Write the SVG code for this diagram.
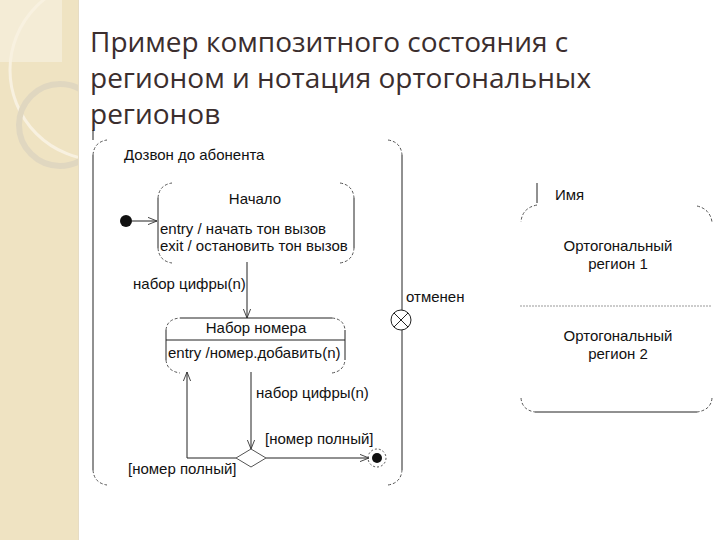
<svg xmlns="http://www.w3.org/2000/svg" width="720" height="540" viewBox="0 0 720 540">
<style>
.t{font-family:"Liberation Sans",Arial,sans-serif;font-size:15px;fill:#111}
.title{font-family:"Open Sans","Noto Sans",sans-serif;font-size:28px;fill:#3b2e2e}
.ln{stroke:#222;stroke-width:1;fill:none}
.cr{stroke:#555;stroke-width:1;fill:none;stroke-dasharray:3 2}
.c{text-anchor:middle}
</style>
<defs>
<marker id="open" viewBox="0 0 10 10" refX="10" refY="5" markerWidth="9" markerHeight="9" orient="auto" markerUnits="userSpaceOnUse">
<path d="M0,1 L10,5 L0,9" fill="none" stroke="#333" stroke-width="1"/>
</marker>
<clipPath id="strip"><rect x="0" y="0" width="78" height="540"/></clipPath>
</defs>
<rect width="720" height="540" fill="#fff"/>
<g id="background" clip-path="url(#strip)">
<rect x="0" y="0" width="78" height="540" fill="#efe3c2"/>
<rect x="0" y="0" width="62" height="62" fill="#f4ecd6"/>
<circle cx="100" cy="70" r="90" fill="none" stroke="#f8f1e0" stroke-width="3"/>
<circle cx="60" cy="125" r="41" fill="none" stroke="#e0d7c0" stroke-width="6"/>
</g>
<line x1="78.5" y1="0" x2="78.5" y2="540" stroke="#e6dcc4" stroke-width="1"/>
<g id="title">
<text class="title" x="90" y="52">Пример композитного состояния с</text>
<text class="title" x="90" y="88">регионом и нотация ортогональных</text>
<text class="title" x="90" y="124">регионов</text>
</g>
<g id="connectors">
<line class="ln" x1="132" y1="221" x2="157" y2="221" marker-end="url(#open)"/>
<line class="ln" x1="247" y1="262" x2="247" y2="318" marker-end="url(#open)"/>
<line class="ln" x1="251" y1="372" x2="251" y2="449" marker-end="url(#open)"/>
<polyline class="ln" points="236,458 187,458 187,372" marker-end="url(#open)"/>
<line class="ln" x1="266" y1="458" x2="369" y2="458" marker-end="url(#open)"/>
<text class="t" x="133" y="289">набор цифры(n)</text>
<text class="t" x="256" y="398">набор цифры(n)</text>
<text class="t" x="128" y="474">[номер полный]</text>
<text class="t" x="265" y="444">[номер полный]</text>
<text class="t" x="406" y="302">отменен</text>
</g>
<g id="dozvon">
<line class="ln" x1="93" y1="130" x2="93" y2="140"/>
<line class="ln" x1="93" y1="155" x2="93" y2="470"/>
<line class="ln" x1="402" y1="155" x2="402" y2="310"/>
<line class="ln" x1="402" y1="330" x2="402" y2="470"/>
<path class="cr" d="M93,155 Q94,142 107,140"/>
<path class="cr" d="M388,140 Q401,142 402,155"/>
<path class="cr" d="M93,470 Q94,483 107,485"/>
<path class="cr" d="M388,485 Q401,483 402,470"/>
<text class="t" x="124" y="160">Дозвон до абонента</text>
</g>
<g id="initial">
<circle cx="126" cy="221" r="6" fill="#111"/>
</g>
<g id="nachalo">
<line class="ln" x1="158" y1="198" x2="158" y2="248"/>
<line class="ln" x1="354" y1="198" x2="354" y2="248"/>
<path class="cr" d="M158,198 Q159,185 172,183"/>
<path class="cr" d="M340,183 Q353,185 354,198"/>
<path class="cr" d="M158,248 Q159,261 172,263"/>
<path class="cr" d="M340,263 Q353,261 354,248"/>
<text class="t c" x="255" y="204">Начало</text>
<text class="t" x="160" y="234">entry / начать тон вызов</text>
<text class="t" x="160" y="251">exit / остановить тон вызов</text>
</g>
<g id="nabor">
<line class="ln" x1="180" y1="318" x2="332" y2="318"/>
<line class="ln" x1="166" y1="340" x2="345" y2="340"/>
<line class="ln" x1="166" y1="330" x2="166" y2="360"/>
<line class="ln" x1="345" y1="330" x2="345" y2="360"/>
<path class="cr" d="M166,330 Q167,319 180,318"/>
<path class="cr" d="M332,318 Q344,319 345,330"/>
<path class="cr" d="M166,360 Q167,371 180,373"/>
<path class="cr" d="M332,373 Q344,371 345,360"/>
<text class="t c" x="256" y="333">Набор номера</text>
<text class="t" x="168" y="358">entry /номер.добавить(n)</text>
</g>
<g id="choice">
<polygon points="236,458 251,449 266,458 251,467" fill="#fff" stroke="#555" stroke-width="1"/>
</g>
<g id="final">
<circle cx="377" cy="458" r="9" fill="none" stroke="#555" stroke-dasharray="2 2"/>
<circle cx="377" cy="458" r="5" fill="#111"/>
</g>
<g id="terminate">
<circle cx="401" cy="320" r="10" fill="#fff" stroke="#222"/>
<line class="ln" x1="394" y1="313" x2="408" y2="327"/>
<line class="ln" x1="408" y1="313" x2="394" y2="327"/>
</g>
<g id="orthogonal">
<line class="ln" x1="537" y1="183" x2="537" y2="203"/>
<text class="t" x="555" y="200">Имя</text>
<path class="cr" d="M537,205 Q522,208 521,222"/>
<path class="cr" d="M697,206 Q710,209 712,222"/>
<path class="cr" d="M521,398 Q522,410 535,412"/>
<path class="cr" d="M712,398 Q711,410 697,412"/>
<line class="ln" x1="535" y1="412" x2="697" y2="412"/>
<line x1="520" y1="306" x2="712" y2="306" stroke="#999" stroke-width="1" stroke-dasharray="2 1"/>
<text class="t c" x="618" y="251">Ортогональный</text>
<text class="t c" x="618" y="269">регион 1</text>
<text class="t c" x="618" y="341">Ортогональный</text>
<text class="t c" x="618" y="359">регион 2</text>
</g>
</svg>
